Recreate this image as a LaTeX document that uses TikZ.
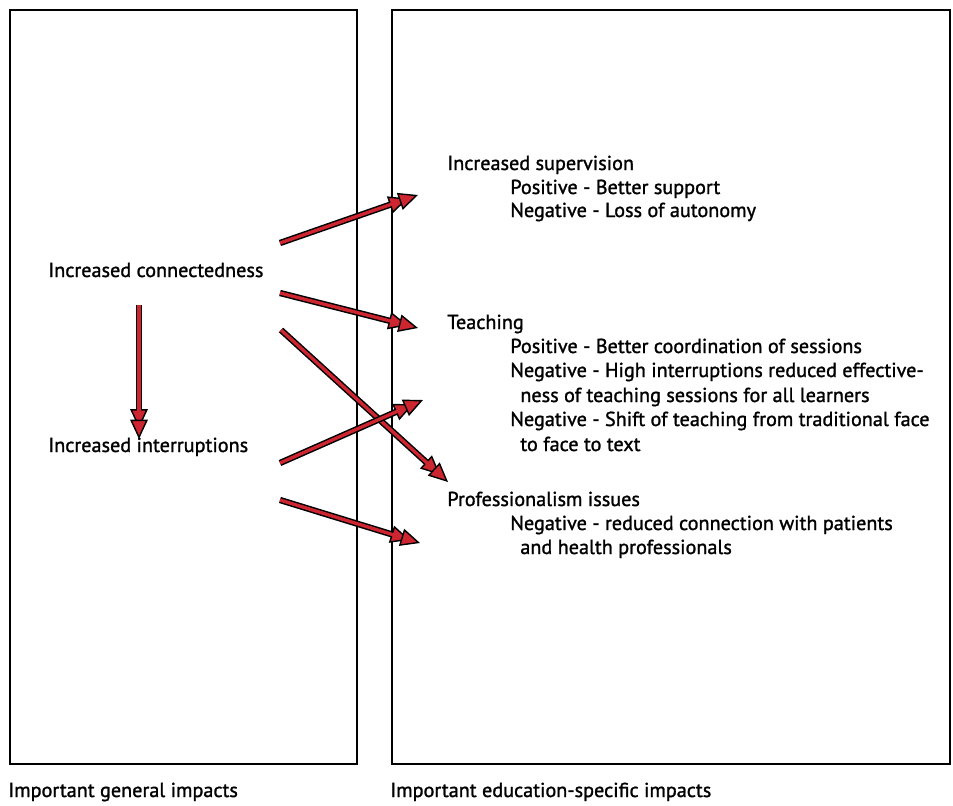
\documentclass[tikz,border=0pt]{standalone}
\usepackage{fontspec}
\setmainfont[UprightFeatures={FakeBold=1.3}]{PT Sans}
\usetikzlibrary{arrows.meta}
\definecolor{arrowred}{RGB}{206,38,48}
\tikzset{
    panel/.style = {
        draw,
        line width=0.9pt},
    impact/.style = {
        anchor=base west,
        inner sep=0pt},
    caption/.style = {
        impact},
    redarrow/.style = {
        preaction={draw=black, line width=3.6pt, shorten >=6pt},
        draw=arrowred,
        line width=1.9pt,
        -{Triangle[length=11pt, width=10pt, fill=arrowred, color=black, line width=0.8pt]}}
}

\begin{document}
\begin{tikzpicture}[
    x                 = 0.02cm,
    y                 = -0.02cm,
    every node/.style = {font=\fontsize{11.5}{14}\selectfont}
]

\useasboundingbox (0,0) rectangle (953,805);

% the two panels
\draw [panel] (10,10) rectangle (357,764);
\draw [panel] (392,10) rectangle (950,764);

% general impacts
\node [impact] (conn) at (48,277) {Increased connectedness};
\node [impact] (intr) at (48,452) {Increased interruptions};

% education-specific impacts
\node [impact] (sup)    at (447,170) {Increased supervision};
\node [impact] (supPos) at (510,194) {Positive - Better support};
\node [impact] (supNeg) at (510,217) {Negative - Loss of autonomy};

\node [impact] (teach)   at (447,329) {Teaching};
\node [impact] (teachA)  at (510,353) {Positive - Better coordination of sessions};
\node [impact] (teachB)  at (510,377) {Negative - High interruptions reduced effective-};
\node [impact] (teachB2) at (520,402) {ness of teaching sessions for all learners};
\node [impact] (teachC)  at (510,426) {Negative - Shift of teaching from traditional face};
\node [impact] (teachC2) at (520,451) {to face to text};

\node [impact] (prof)   at (447,506) {Professionalism issues};
\node [impact] (profA)  at (510,530) {Negative - reduced connection with patients};
\node [impact] (profA2) at (520,554) {and health professionals};

% captions
\node [caption] (capL) at (8,797)   {Important general impacts};
\node [caption] (capR) at (390,797) {Important education-specific impacts};

% arrow ends
\coordinate (connA) at (280,243);
\coordinate (connB) at (280,293);
\coordinate (connC) at (281,330);
\coordinate (connD) at (139,305);
\coordinate (intrD) at (139,439);
\coordinate (intrA) at (280,463);
\coordinate (intrB) at (280,500);
\coordinate (supIn)   at (418,195);
\coordinate (teachIn) at (418,328);
\coordinate (teachIn2) at (423,400);
\coordinate (profIn)  at (448,482);
\coordinate (profIn2) at (420,543);

\draw [redarrow] (connA) -- (supIn);
\draw [redarrow] (connB) -- (teachIn);
\draw [redarrow] (connC) -- (profIn);
\draw [redarrow] (connD) -- (intrD);
\draw [redarrow] (intrA) -- (teachIn2);
\draw [redarrow] (intrB) -- (profIn2);

\end{tikzpicture}
\end{document}
